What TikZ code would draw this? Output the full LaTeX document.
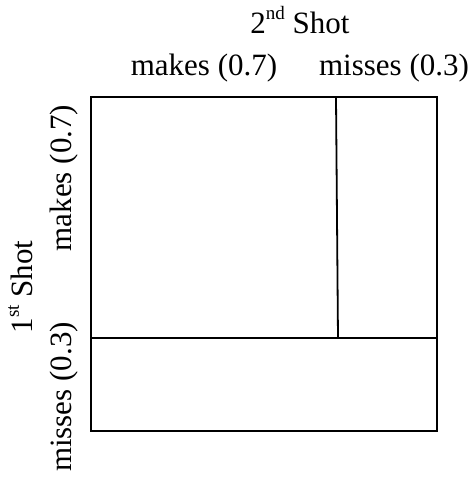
\documentclass[tikz,border=0pt]{standalone}
\usepackage{fontspec}
\setmainfont{Liberation Serif}
\newcommand\ordsup[1]{\raisebox{0.42em}{\fontsize{19}{19}\selectfont #1}}
\begin{document}
\begin{tikzpicture}[x=1pt,y=-1pt,
  lbl/.style={inner sep=0pt,anchor=base,font=\fontsize{31}{36}\selectfont},
  vlbl/.style={lbl,rotate=90},
  grid/.style={draw=black,line width=1.8pt}]
  \useasboundingbox[fill=white] (0,0) rectangle (475,483);
  % outer square and the split points of its sides
  \coordinate (tl) at (91,97);
  \coordinate (br) at (437,431);
  \coordinate (lm) at (91,338);
  \coordinate (rm) at (437,338);
  \coordinate (vt) at (336,97);
  \coordinate (vb) at (338,338);
  \draw[grid] (tl) rectangle (br);
  \draw[grid] (lm) -- (rm);
  \draw[grid] (vt) -- (vb);
  % column headings
  \node[lbl] (second) at (300,33) {2\ordsup{nd} Shot};
  \node[lbl] (cmake) at (204,75) {makes (0.7)};
  \node[lbl] (cmiss) at (394,75) {misses (0.3)};
  % row headings
  \node[vlbl] (first) at (32,287) {1\ordsup{st} Shot};
  \node[vlbl] (rmake) at (71,178) {makes (0.7)};
  \node[vlbl] (rmiss) at (71,397) {misses (0.3)};
\end{tikzpicture}
\end{document}
